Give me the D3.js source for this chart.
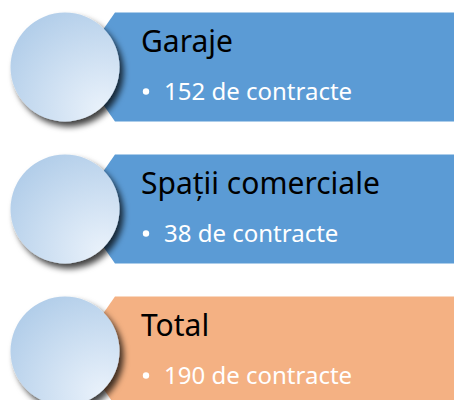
<!DOCTYPE html>
<html>
<head>
<meta charset="utf-8">
<script src="https://cdn.jsdelivr.net/npm/d3@7"></script>
<style>
  body { margin: 0; background: #fff; }
</style>
</head>
<body>
<script>
// Data
var categories = ["Garaje", "Spații comerciale", "Total"];
var contracts = [152, 38, 190];
var unitLabel = "de contracte";

var width = 454;
var height = 400;

var rows = categories.map(function (c, i) { return { name: c, value: contracts[i] }; });

// vertical bands for each row
var y = d3.scaleBand()
    .domain(categories)
    .range([12.5, 405.5])
    .paddingInner(0.2324)
    .paddingOuter(0);

var fill = d3.scaleOrdinal()
    .domain(categories)
    .range(["#5b9bd5", "#5b9bd5", "#f4b183"]);

var svg = d3.select("body")
    .append("svg")
    .attr("width", width)
    .attr("height", height)
    .attr("viewBox", [0, 0, width, height]);

var defs = svg.append("defs");

// circle gradient, light in the bottom-right
var grad = defs.append("radialGradient")
    .attr("id", "ball")
    .attr("cx", "85%").attr("cy", "90%")
    .attr("fx", "85%").attr("fy", "90%")
    .attr("r", "110%");
grad.append("stop").attr("offset", "0%").attr("stop-color", "#eaf2fb");
grad.append("stop").attr("offset", "100%").attr("stop-color", "#aecbe8");

// drop shadow under the circle
defs.append("filter")
    .attr("id", "shadow")
    .attr("x", "-30%").attr("y", "-30%")
    .attr("width", "170%").attr("height", "170%")
  .append("feDropShadow")
    .attr("dx", 4).attr("dy", 5)
    .attr("stdDeviation", 3)
    .attr("flood-color", "#000")
    .attr("flood-opacity", 0.75);

var row = svg.selectAll("g.row")
    .data(rows)
    .enter()
    .append("g")
    .attr("class", "row")
    .attr("transform", function (d) { return "translate(0," + y(d.name) + ")"; });

var h = y.bandwidth();

// banner with a pointed left end
row.append("path")
    .attr("d", function () {
        return d3.line()([[77, h / 2], [115, 0], [width, 0], [width, h], [115, h]]) + "Z";
    })
    .attr("fill", function (d) { return fill(d.name); });

// circle
row.append("circle")
    .attr("cx", 65)
    .attr("cy", h / 2)
    .attr("r", h / 2)
    .attr("fill", "url(#ball)")
    .attr("filter", "url(#shadow)");

// title
row.append("text")
    .attr("x", 141)
    .attr("y", 39.5)
    .attr("font-family", "'Noto Sans', sans-serif")
    .attr("font-size", 30)
    .attr("fill", "#000")
    .text(function (d) { return d.name; });

// bullet
row.append("circle")
    .attr("cx", 146)
    .attr("cy", 79)
    .attr("r", 3.2)
    .attr("fill", "#fff");

// value line
row.append("text")
    .attr("x", 164)
    .attr("y", 87.5)
    .attr("font-family", "'Noto Sans', sans-serif")
    .attr("font-size", 24)
    .attr("fill", "#fff")
    .text(function (d) { return d.value + " " + unitLabel; });
</script>
</body>
</html>
